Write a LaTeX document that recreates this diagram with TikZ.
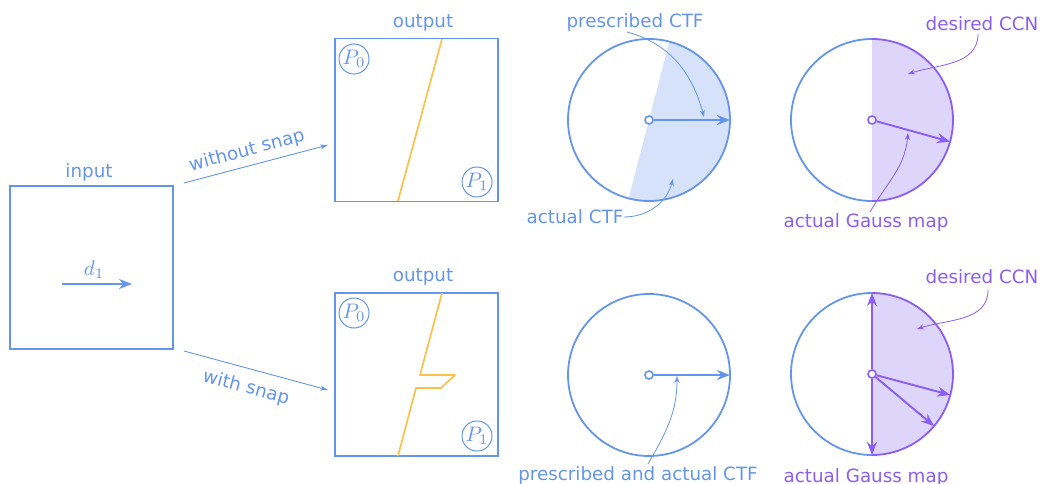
\documentclass[tikz,border=0pt]{standalone}
\usepackage[no-math]{fontspec}
\setmainfont{DejaVu Sans}
\usetikzlibrary{arrows.meta,calc}
\definecolor{cblue}{HTML}{6495ED}
\definecolor{cpurple}{HTML}{8B5CF6}
\definecolor{corange}{HTML}{FCC14A}
\definecolor{fblue}{HTML}{D6E2FA}
\definecolor{fpurple}{HTML}{DDD6FA}
\newcommand{\bigmath}[1]{\scalebox{2.1}{$#1$}}
\begin{document}
\begin{tikzpicture}[x=1pt,y=1pt,
  txt/.style={font=\fontsize{18.3}{22}\selectfont, inner sep=0pt},
  txtb/.style={txt, text=cblue},
  txtp/.style={txt, text=cpurple},
  box/.style={draw=cblue, line width=1.9pt, minimum width=163pt, minimum height=163pt, inner sep=0pt},
  ptc/.style={circle, draw=cblue, line width=1pt, minimum size=30pt, inner sep=0pt, text=cblue},
  conn/.style={draw=cblue, line width=0.9pt, -{Stealth[length=8pt,width=5pt]}},
  leadb/.style={draw=cblue, line width=0.8pt, -{Stealth[length=7pt,width=5pt]}},
  leadp/.style={draw=cpurple, line width=0.8pt, -{Stealth[length=7pt,width=5pt]}},
  thkb/.style={draw=cblue, line width=1.9pt, -{Stealth[length=13pt,width=10pt]}},
  thkp/.style={draw=cpurple, line width=1.9pt, -{Stealth[length=13pt,width=10pt]}},
  dotb/.style={circle, draw=cblue, fill=white, line width=1.6pt, minimum size=8pt, inner sep=0pt},
  dotp/.style={circle, draw=cpurple, fill=white, line width=1.6pt, minimum size=8pt, inner sep=0pt},
  ring/.style={circle, draw=cblue, line width=1.8pt, minimum size=162pt, inner sep=0pt},
  snap/.style={draw=corange, line width=1.7pt, line join=round}
]
\useasboundingbox (0,0) rectangle (1049,-484);

% input box
\node[box] (input) at (91.5,-267.5) {};
\node[txtb] (inlab) at (89,-172) {input};
\coordinate (dA) at (62,-284);
\coordinate (dB) at (132,-284);
\draw[thkb] (dA) -- (dB);
\node[text=cblue, inner sep=0pt] (dlab) at (94,-270) {\bigmath{d_1}};

% connectors
\coordinate (c1s) at (184,-183);
\coordinate (c1e) at (328,-145);
\coordinate (c2s) at (184,-351);
\coordinate (c2e) at (328,-390);
\draw[conn] (c1s) -- (c1e);
\draw[conn] (c2s) -- (c2e);
\node[txtb, rotate=14.8] (wo) at (247,-151) {without snap};
\node[txtb, rotate=-15] (wi) at (246,-388) {with snap};

% output top
\node[box] (out1) at (416.5,-120) {};
\node[txtb] (o1lab) at (423,-23) {output};
\node[ptc] (p0a) at (354,-59) {\bigmath{P_0}};
\node[ptc] (p1a) at (477,-182) {\bigmath{P_1}};
\draw[snap] (442,-39) -- (398,-201);

% output bottom
\node[box] (out2) at (416.5,-374.5) {};
\node[txtb] (o2lab) at (423,-277) {output};
\node[ptc] (p0b) at (354,-313) {\bigmath{P_0}};
\node[ptc] (p1b) at (477,-436) {\bigmath{P_1}};
\draw[snap] (442,-293) -- (420,-375) -- (455,-375) -- (441,-388) -- (416,-388) -- (398,-456);

% circle top-left (CTF)
\fill[fblue] (649,-120) -- ++(75.4:81) arc[start angle=75.4, end angle=-104.6, radius=81] -- cycle;
\node[ring] (ctf1) at (649,-120) {};
\node[dotb] (ctf1c) at (649,-120) {};
\coordinate (ctf1t) at (730,-120);
\draw[thkb] (ctf1c) -- (ctf1t);
\node[txtb] (pctf) at (635,-22) {prescribed CTF};
\coordinate (pctfs) at (627,-32);
\coordinate (pctfe) at (704,-117);
\draw[leadb] (pctfs) to[out=-15, in=105] (pctfe);
\node[txtb] (actf) at (575,-217) {actual CTF};
\coordinate (actfe) at (673,-179);
\draw[leadb] (actf.east) to[out=0, in=-105] (actfe);

% circle top-right (CCN)
\fill[fpurple] (872,-120) -- ++(90:81) arc[start angle=90, end angle=-90, radius=81] -- cycle;
\draw[cblue, line width=1.8pt] (872,-39) arc[start angle=90, end angle=270, radius=81];
\draw[cpurple, line width=1.8pt] (872,-39) arc[start angle=90, end angle=-90, radius=81];
\node[dotp] (ccn1c) at (872,-120) {};
\coordinate (ccn1t) at ($(872,-120)+(-15.5:81)$);
\draw[thkp] (ccn1c) -- (ccn1t);
\node[txtp] (dccn1) at (982,-24) {desired CCN};
\coordinate (dccn1s) at (978,-34);
\coordinate (dccn1e) at (908,-74);
\draw[leadp] (dccn1s) to[out=-90, in=18] (dccn1e);
\node[txtp] (agm1) at (866,-222) {actual Gauss map};
\coordinate (agm1s) at (870,-212);
\coordinate (agm1e) at (908,-133);
\draw[leadp] (agm1s) to[out=60, in=-95] (agm1e);

% circle bottom-left
\node[ring] (ctf2) at (649,-375) {};
\node[dotb] (ctf2c) at (649,-375) {};
\coordinate (ctf2t) at (730,-375);
\draw[thkb] (ctf2c) -- (ctf2t);
\node[txtb] (pactf) at (638,-475) {prescribed and actual CTF};
\coordinate (pactfs) at (648,-464);
\coordinate (pactfe) at (677,-376);
\draw[leadb] (pactfs) to[out=60, in=-90] (pactfe);

% circle bottom-right
\fill[fpurple] (872,-374) -- ++(90:81) arc[start angle=90, end angle=-90, radius=81] -- cycle;
\draw[cblue, line width=1.8pt] (872,-293) arc[start angle=90, end angle=270, radius=81];
\draw[cpurple, line width=1.8pt] (872,-293) arc[start angle=90, end angle=-90, radius=81];
\node[dotp] (ccn2c) at (872,-374) {};
\coordinate (ccn2a) at ($(872,-374)+(90:81)$);
\coordinate (ccn2b) at ($(872,-374)+(-90:81)$);
\coordinate (ccn2c15) at ($(872,-374)+(-15:81)$);
\coordinate (ccn2c40) at ($(872,-374)+(-40:81)$);
\draw[thkp] (ccn2c) -- (ccn2a);
\draw[thkp] (ccn2c) -- (ccn2b);
\draw[thkp] (ccn2c) -- (ccn2c15);
\draw[thkp] (ccn2c) -- (ccn2c40);
\node[txtp] (dccn2) at (982,-277) {desired CCN};
\coordinate (dccn2s) at (988,-290);
\coordinate (dccn2e) at (917,-329);
\draw[leadp] (dccn2s) to[out=-90, in=18] (dccn2e);
\node[txtp] (agm2) at (866,-477) {actual Gauss map};
\end{tikzpicture}
\end{document}
